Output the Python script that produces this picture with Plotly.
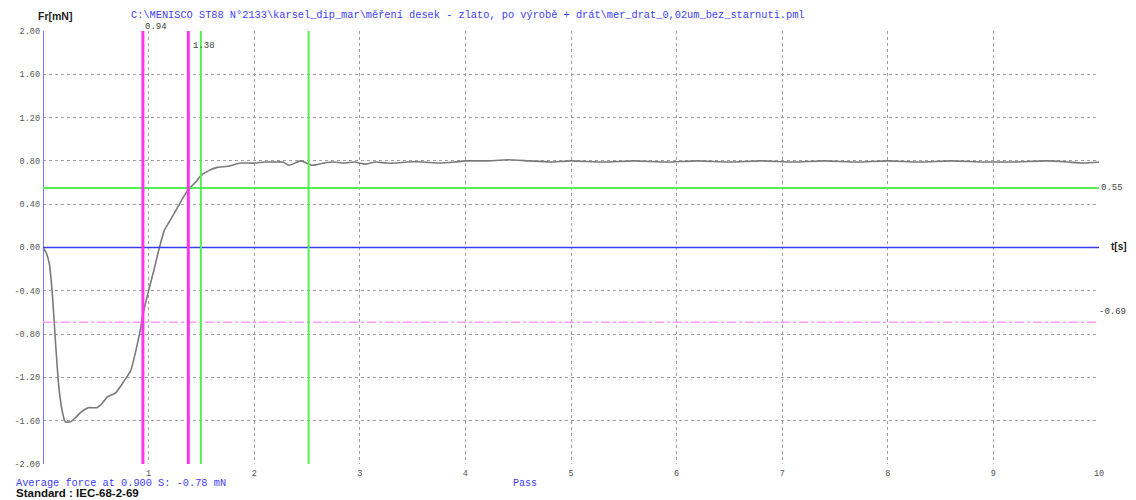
import plotly.graph_objects as go

# ---- data ----
time_s = [0.00, 0.03, 0.06, 0.09, 0.12, 0.15, 0.18, 0.21, 0.26, 0.31, 0.36, 0.43, 0.51, 0.56, 0.61,
          0.69, 0.77, 0.83, 0.88, 0.92, 0.955, 1.00, 1.05, 1.10, 1.15, 1.24, 1.32, 1.38, 1.45, 1.49,
          1.57, 1.65, 1.75, 1.87, 2.00, 2.10, 2.19, 2.27, 2.33, 2.44, 2.55, 2.66, 2.75, 2.85, 2.95,
          3.05, 3.15, 3.25, 3.35, 3.45, 3.60, 3.75, 3.90, 4.00, 4.20, 4.40, 4.60, 4.80, 5.00, 5.30,
          5.60, 5.90, 6.20, 6.50, 6.80, 7.10, 7.40, 7.70, 8.00, 8.30, 8.60, 8.90, 9.20, 9.50, 9.70,
          9.85, 10.00]
force_mN = [0.00, -0.05, -0.15, -0.45, -0.90, -1.29, -1.50, -1.61, -1.61, -1.57, -1.52, -1.48, -1.48, -1.44, -1.38,
            -1.34, -1.23, -1.14, -0.95, -0.77, -0.58, -0.40, -0.21, -0.01, 0.16, 0.31, 0.45, 0.54, 0.61, 0.66,
            0.71, 0.74, 0.75, 0.78, 0.78, 0.79, 0.79, 0.79, 0.76, 0.80, 0.76, 0.78, 0.79, 0.78, 0.79,
            0.77, 0.79, 0.78, 0.78, 0.79, 0.79, 0.78, 0.79, 0.80, 0.80, 0.81, 0.80, 0.79, 0.80, 0.79,
            0.80, 0.79, 0.80, 0.79, 0.80, 0.79, 0.80, 0.79, 0.80, 0.79, 0.80, 0.79, 0.79, 0.80, 0.79,
            0.78, 0.79]

x_ticks = [1, 2, 3, 4, 5, 6, 7, 8, 9, 10]
y_ticks = [2.0, 1.6, 1.2, 0.8, 0.4, 0.0, -0.4, -0.8, -1.2, -1.6, -2.0]
y_tick_text = ["2.00", "1.60", "1.20", "0.80", "0.40", "0.00", "-0.40", "-0.80", "-1.20", "-1.60", "-2.00"]

magenta_cursors = [0.946, 1.376]
magenta_labels = ["0.94", "1.38"]
green_cursors = [1.495, 2.515]
green_level = 0.55
magenta_level = -0.69

title_text = "C:\\MENISCO ST88 N°2133\\karsel_dip_mar\\měření desek - zlato, po výrobě + drát\\mer_drat_0,02um_bez_starnuti.pml"

# ---- layout geometry (reference pixels; page body adds an 8px offset) ----
OFF = 8
W, H = 1136, 500
PL, PR, PT, PB = 43, 1099, 31, 464          # plot box in reference pixels
L, T = PL - OFF, PT - OFF
R, B = W - (PR - OFF), H - (PB - OFF)
PH = PB - PT
PW = PR - PL

def py(pix):  # reference pixel y -> paper y
    return (PB - pix) / PH

def px(pix):  # reference pixel x -> paper x
    return (pix - PL) / PW

MONO = "Liberation Mono, Courier New, monospace"
SANS = "Liberation Sans, Arial, sans-serif"
BLUE = "#3c3cff"

fig = go.Figure()

fig.add_trace(go.Scatter(x=time_s, y=force_mN, mode="lines", line_shape="spline",
                         line=dict(color="#7a7a7a", width=1.6, smoothing=0.5),
                         hoverinfo="skip", showlegend=False))

shapes = []
shapes.append(dict(type="line", xref="x", yref="paper", x0=0, x1=0, y0=0, y1=1,
                   line=dict(color="#7b7bff", width=2)))
shapes.append(dict(type="line", xref="x", yref="y", x0=0, x1=10, y0=0, y1=0,
                   line=dict(color="#3a3aee", width=1.5)))
shapes.append(dict(type="line", xref="x", yref="y", x0=0, x1=10, y0=green_level, y1=green_level,
                   line=dict(color="#55ee55", width=2)))
shapes.append(dict(type="line", xref="x", yref="y", x0=0, x1=10, y0=magenta_level, y1=magenta_level,
                   line=dict(color="#ff99ff", width=1.5, dash="dashdot")))
for xv in magenta_cursors:
    shapes.append(dict(type="line", xref="x", yref="paper", x0=xv, x1=xv, y0=0, y1=1,
                       line=dict(color="#ff33ee", width=3)))
for xv in green_cursors:
    shapes.append(dict(type="line", xref="x", yref="paper", x0=xv, x1=xv, y0=0, y1=1,
                       line=dict(color="#55ee55", width=2)))

def txt(x, y, text, font, xanchor="left", xref="paper"):
    return dict(x=x, y=y, xref=xref, yref="paper", text=text, showarrow=False,
                xanchor=xanchor, yanchor="middle", font=font)

small = dict(family=MONO, size=9, color="#444")
ann = [
    txt(magenta_cursors[0], py(27), magenta_labels[0], small, xref="x"),
    txt(magenta_cursors[1], py(46), magenta_labels[1], small, xref="x"),
    txt(px(1099), py(188), f"{green_level:.2f}", small),
    txt(px(1097), py(312), f"{magenta_level:.2f}", small),
    txt(px(1109), py(247), "<b>t[s]</b>", dict(family=SANS, size=10, color="#222")),
    txt(px(36), py(16), "<b>Fr[mN]</b>", dict(family=SANS, size=10.5, color="#222")),
    txt(px(129), py(15), title_text, dict(family=MONO, size=10.3, color=BLUE)),
    txt(px(14), py(483), "Average force at 0.900 S: -0.78 mN", dict(family=MONO, size=10.3, color=BLUE)),
    txt(px(14), py(493), "<b>Standard : IEC-68-2-69</b>", dict(family=SANS, size=11.5, color="#111")),
    txt(px(525), py(483), "Pass", dict(family=MONO, size=10, color=BLUE), xanchor="center"),
]
ann[1]["xshift"] = 3

fig.update_layout(
    width=W, height=H,
    margin=dict(l=L, r=R, t=T, b=B, pad=0, autoexpand=False),
    paper_bgcolor="white", plot_bgcolor="white",
    shapes=shapes, annotations=ann, showlegend=False,
    xaxis=dict(range=[0, 10], tickvals=x_ticks, ticktext=[str(v) for v in x_ticks],
               showgrid=True, gridcolor="#a0a0a0", griddash="dot", gridwidth=1,
               zeroline=False, showline=False, ticks="", ticklabelstandoff=2, automargin=False,
               tickfont=dict(family=MONO, size=8.5, color="#555")),
    yaxis=dict(range=[-2, 2], tickvals=y_ticks, ticktext=y_tick_text,
               showgrid=True, gridcolor="#a0a0a0", griddash="dot", gridwidth=1,
               zeroline=False, showline=False, ticks="", ticklabelstandoff=2, automargin=False,
               tickfont=dict(family=MONO, size=8.5, color="#555")),
)

fig.write_html("out.html")
